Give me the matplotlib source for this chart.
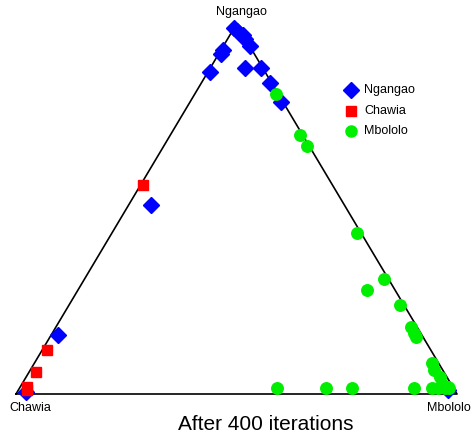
import numpy as np
import matplotlib
matplotlib.use('Agg')
import matplotlib.pyplot as plt

plt.rcParams['font.family'] = ['Liberation Sans', 'DejaVu Sans']

# ternary compositions: (ngangao, chawia, mbololo) share per individual
ngangao_n = [0.99, 0.98, 0.97, 0.96, 0.94, 0.93, 0.92, 0.87, 0.88, 0.88, 0.84, 0.79, 0.51, 0.16, 0.005, 0.01]
ngangao_c = [0.01, 0.01, 0.00, 0.00, 0.00, 0.065, 0.075, 0.125, 0.04, 0.005, 0.005, 0.005, 0.44, 0.825, 0.975, 0.015]
ngangao_m = [0.00, 0.01, 0.03, 0.04, 0.06, 0.005, 0.005, 0.005, 0.08, 0.115, 0.155, 0.205, 0.05, 0.015, 0.02, 0.975]

chawia_n = [0.565, 0.12, 0.06, 0.02, 0.01]
chawia_c = [0.43, 0.87, 0.925, 0.965, 0.97]
chawia_m = [0.005, 0.01, 0.015, 0.015, 0.02]

mbololo_n = [0.81, 0.70, 0.67, 0.435, 0.31, 0.28, 0.24, 0.18, 0.165, 0.155, 0.085, 0.065, 0.045,
             0.025, 0.02, 0.015, 0.015, 0.015, 0.015, 0.015, 0.015, 0.015, 0.015]
mbololo_c = [0.005, 0.005, 0.005, 0.01, 0.01, 0.065, 0.01, 0.015, 0.015, 0.015, 0.015, 0.02, 0.015,
             0.02, 0.01, 0.40, 0.29, 0.23, 0.09, 0.05, 0.035, 0.02, 0.01]
mbololo_m = [0.185, 0.295, 0.325, 0.555, 0.68, 0.655, 0.75, 0.805, 0.82, 0.83, 0.90, 0.915, 0.94,
             0.955, 0.97, 0.585, 0.695, 0.755, 0.895, 0.935, 0.95, 0.965, 0.975]

vertex_labels = ['Ngangao', 'Chawia', 'Mbololo']
title = 'After 400 iterations'


def tern(n, c, m):
    n = np.array(n); c = np.array(c); m = np.array(m)
    s = n + c + m
    n, m = n / s, m / s
    return m + 0.5 * n, n


fig = plt.figure(figsize=(4.74, 4.33), dpi=100)
ax = fig.add_axes([16 / 474, 39 / 433, 441 / 474, 370 / 433])
ax.set_xlim(0, 1)
ax.set_ylim(0, 1)
ax.axis('off')

ax.plot([0, 1, 0.5, 0], [0, 0, 1, 0], color='black', lw=1.2, zorder=1, clip_on=False)

# blue first so red/green sit on top, as in the original
x, y = tern(ngangao_n, ngangao_c, ngangao_m)
ax.plot(x, y, 'D', color='#0000ff', ms=8, ls='none', zorder=2, clip_on=False)
x, y = tern(chawia_n, chawia_c, chawia_m)
ax.plot(x, y, 's', color='#ff0000', ms=7.5, ls='none', zorder=3, clip_on=False)
x, y = tern(mbololo_n, mbololo_c, mbololo_m)
ax.plot(x, y, 'o', color='#00ee00', ms=8.3, ls='none', zorder=4, clip_on=False)

# legend drawn by hand like the original
leg_markers = ['D', 's', 'o']
leg_colors = ['#0000ff', '#ff0000', '#00ee00']
leg_sizes = [8, 7, 8]
for i in range(3):
    ly = 0.822 - i * 0.056
    ax.plot([0.76], [ly], leg_markers[i], color=leg_colors[i], ms=leg_sizes[i], clip_on=False)
    ax.text(0.79, ly, vertex_labels[i], fontsize=9, va='center', ha='left')

fig.text(241 / 474, 1 - 12 / 433, vertex_labels[0], fontsize=9, ha='center', va='center')
fig.text(30 / 474, 1 - 408 / 433, vertex_labels[1], fontsize=9, ha='center', va='center')
fig.text(449 / 474, 1 - 408 / 433, vertex_labels[2], fontsize=9, ha='center', va='center')
fig.text(266 / 474, 1 - 425 / 433, title, fontsize=15, ha='center', va='center')

fig.savefig('out.png', dpi=100)
